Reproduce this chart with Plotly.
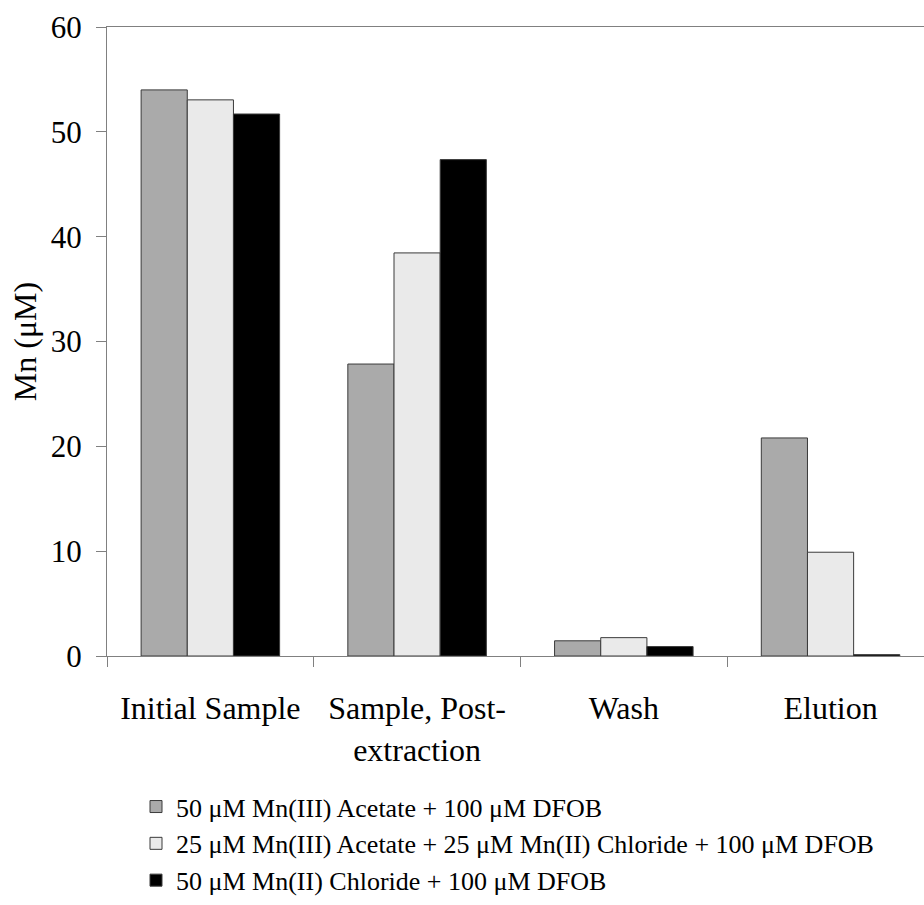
import plotly.graph_objects as go

categories = ["Initial Sample", "Sample, Post-<br>extraction", "Wash", "Elution"]
series_names = [
    "50 μM Mn(III) Acetate + 100 μM DFOB",
    "25 μM Mn(III) Acetate + 25 μM Mn(II) Chloride + 100 μM DFOB",
    "50 μM Mn(II) Chloride + 100 μM DFOB",
]
mn_iii_acetate = [54.0, 27.85, 1.45, 20.8]
mn_mixed = [53.05, 38.45, 1.75, 9.9]
mn_ii_chloride = [51.7, 47.35, 0.9, 0.13]
colors = ["#AAAAAA", "#EAEAEA", "#000000"]

fig = go.Figure()
for name, vals, col in zip(series_names, [mn_iii_acetate, mn_mixed, mn_ii_chloride], colors):
    fig.add_trace(go.Bar(
        x=categories, y=vals, name=name,
        marker=dict(color=col, line=dict(color="#3a3a3a", width=1)),
    ))

font_family = "Liberation Serif"
fig.update_layout(
    width=924, height=905,
    margin=dict(l=107, r=0, t=27, b=249),
    plot_bgcolor="white", paper_bgcolor="white",
    barmode="group", bargap=0.33, bargroupgap=0,
    font=dict(family=font_family, color="black", size=31),
    showlegend=True,
    legend=dict(
        x=0.0355, y=-0.3945, xanchor="left", yanchor="bottom",
        font=dict(size=26, family=font_family), orientation="v",
        bgcolor="rgba(0,0,0,0)", tracegroupgap=0,
    ),
    xaxis=dict(
        range=[-0.5, 3.452], showline=True, linecolor="#808080", linewidth=1,
        mirror=True, ticks="outside", tickcolor="#808080", ticklen=10,
        tickson="boundaries", showgrid=False, tickfont=dict(size=32),
        ticklabelstandoff=24, automargin=False, fixedrange=True,
    ),
    yaxis=dict(
        range=[0, 60], dtick=10, showline=True, linecolor="#808080", linewidth=1,
        ticks="outside", tickcolor="#808080", ticklen=10, showgrid=False,
        zeroline=False, tickfont=dict(size=31), automargin=False,
        ticklabelstandoff=8, fixedrange=True,
        title=dict(text="Mn (μM)", font=dict(size=32), standoff=4),
    ),
)
fig.write_html("out.html", config={"displayModeBar": False},
               post_script="document.body.style.margin='0';")
